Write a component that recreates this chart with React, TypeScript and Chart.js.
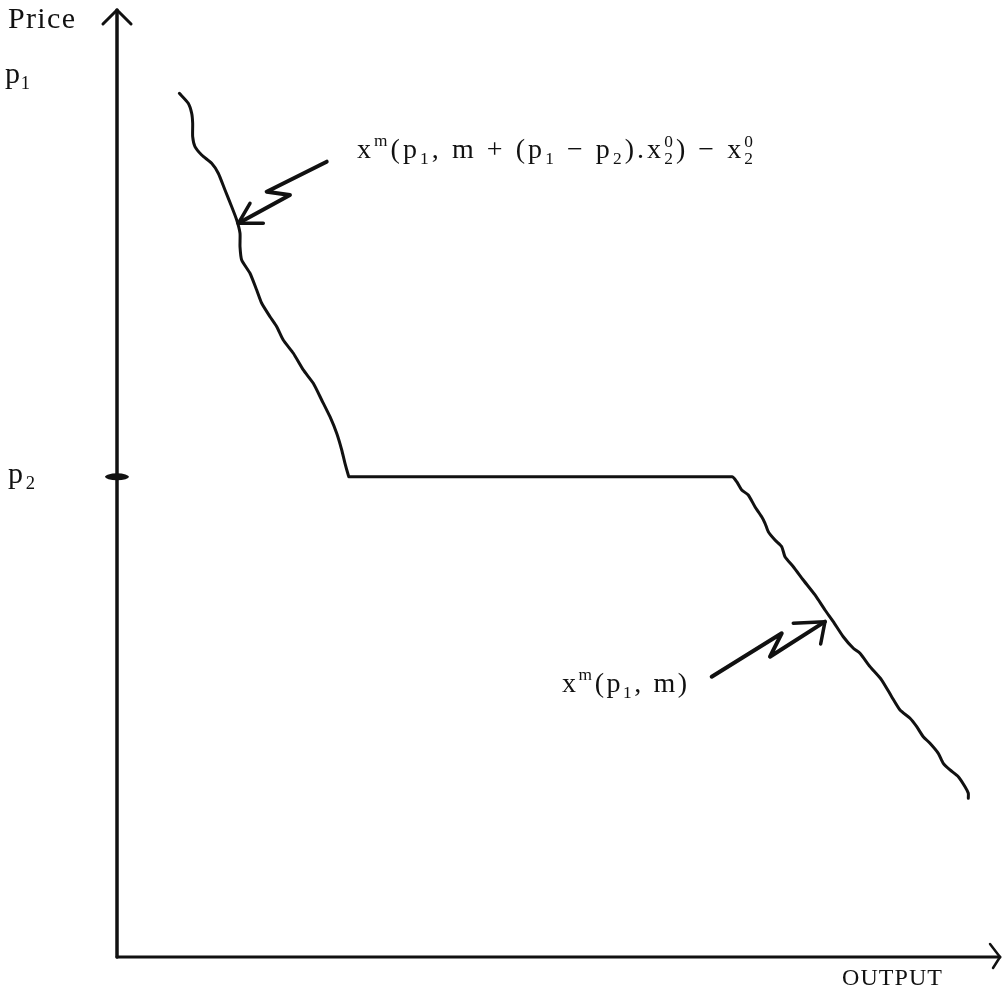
import React, { useEffect, useRef } from "react";
import { Chart, registerables } from "chart.js";

Chart.register(...registerables);

const W = 1007;
const H = 986;

// Price levels
const P1 = 91.2;
const P2 = 50.7;

// Demand curve: upper segment, flat part at p2, lower segment (x = output, y = price)
const curveX = [
  7.06, 8.07, 8.46, 8.57, 8.57, 8.83, 9.59, 10.72, 11.47, 12.23, 12.99, 13.56, 13.93, 13.93, 14.12, 15.06,
  15.82, 16.39, 17.33, 18.09, 18.83, 19.97, 21.1, 22.23, 23.18, 24.12, 24.88, 25.45, 25.82, 26.19, 26.27,
  69.65, 70.18, 70.75, 71.49, 72.25, 73.01, 73.39, 73.76, 74.52, 75.28, 75.65, 76.59, 77.72, 79.05, 80.18,
  81.12, 82.25, 83.39, 84.14, 85.28, 86.6, 87.73, 88.68, 89.81, 90.57, 91.31, 92.07, 93.01, 93.58, 94.34,
  95.28, 96.04, 96.41, 96.41,
];
const curveY = [
  91.2, 90.15, 89.09, 88.04, 86.62, 85.57, 84.69, 83.81, 82.76, 80.99, 79.23, 77.82, 76.42, 75.01, 73.6, 72.2,
  70.43, 69.03, 67.61, 66.56, 65.15, 63.75, 61.99, 60.58, 58.82, 57.05, 55.3, 53.54, 52.13, 50.9, 50.7,
  50.7, 50.19, 49.31, 48.79, 47.55, 46.49, 45.8, 44.91, 44.03, 43.33, 42.27, 41.21, 39.81, 38.23, 36.64,
  35.41, 33.82, 32.6, 32.07, 30.66, 29.25, 27.49, 26.08, 25.21, 24.32, 23.26, 22.57, 21.51, 20.45, 19.75,
  19.04, 17.98, 17.29, 16.76,
];

// Annotation arrow pointing at the upper segment (shaft with zig-zag, then head)
const arrowUpperX = [23.75, 16.95, 19.59, 13.74];
const arrowUpperY = [83.98, 80.81, 80.46, 77.48];
const headUpperX = [15.06, 13.74, 16.57];
const headUpperY = [79.59, 77.48, 77.48];

// Annotation arrow pointing at the lower segment
const arrowLowerX = [67.35, 75.28, 73.95, 80.18];
const arrowLowerY = [29.6, 34.18, 31.71, 35.41];
const headLowerX = [76.59, 80.18, 79.69];
const headLowerY = [35.24, 35.41, 33.05];

// Axes (with arrow heads)
const yAxisX = [0, 0];
const yAxisY = [0, 100];
const xAxisX = [0, 100];
const xAxisY = [0, 0];
const yHeadX = [-1.59, 0, 1.59];
const yHeadY = [98.52, 100, 98.52];
const xHeadX = [98.87, 100, 99.21];
const xHeadY = [1.37, 0, -1.16];

// Text labels
type Seg = [string, "n" | "sup" | "sub" | "ss", string?];
const yTitle = "Price";
const xTitle = "OUTPUT";
const p1Label: Seg[] = [["p", "n"], ["1", "sub"]];
const p2Label: Seg[] = [["p", "n"], ["2", "sub"]];
const upperLabel: Seg[] = [
  ["x", "n"], ["m", "sup"], ["(p", "n"], ["1", "sub"], [", m + (p", "n"], ["1", "sub"],
  [" − p", "n"], ["2", "sub"], [").x", "n"], ["2", "ss", "0"], [") − x", "n"], ["2", "ss", "0"],
];
const lowerLabel: Seg[] = [["x", "n"], ["m", "sup"], ["(p", "n"], ["1", "sub"], [", m)", "n"]];
const upperLabelPos = [27.18, 84.37];
const lowerLabelPos = [50.4, 27.98];

const FONT = "'Liberation Serif', serif";
const INK = "#111";

const pts = (xs: number[], ys: number[]) => xs.map((x, i) => ({ x, y: ys[i] }));

function drawRich(ctx: CanvasRenderingContext2D, segs: Seg[], x0: number, y0: number, size: number, target: number) {
  const small = size * 0.62;
  const items: { ch: string; sz: number; dy: number; ch2?: string; dy2?: number }[] = [];
  for (const [t, kind, t2] of segs) {
    if (kind === "n") for (const ch of t) items.push({ ch, sz: size, dy: 0 });
    else if (kind === "sup") for (const ch of t) items.push({ ch, sz: small, dy: -0.42 * size });
    else if (kind === "sub") for (const ch of t) items.push({ ch, sz: small, dy: 0.2 * size });
    else items.push({ ch: t, sz: small, dy: 0.2 * size, ch2: t2, dy2: -0.4 * size });
  }
  const widths = items.map((it) => {
    ctx.font = `${it.sz}px ${FONT}`;
    const w1 = ctx.measureText(it.ch).width;
    const w2 = it.ch2 ? ctx.measureText(it.ch2).width : 0;
    return Math.max(w1, w2);
  });
  const natural = widths.reduce((a, b) => a + b, 0);
  const gap = items.length > 1 ? (target - natural) / (items.length - 1) : 0;
  let x = x0;
  ctx.fillStyle = INK;
  ctx.textBaseline = "alphabetic";
  ctx.textAlign = "left";
  items.forEach((it, i) => {
    ctx.font = `${it.sz}px ${FONT}`;
    ctx.fillText(it.ch, x, y0 + it.dy);
    if (it.ch2) ctx.fillText(it.ch2, x, y0 + (it.dy2 || 0));
    x += widths[i] + gap;
  });
}

const labelPlugin = {
  id: "labels",
  afterDatasetsDraw(chart: any) {
    const { ctx } = chart;
    const xs = chart.scales.x;
    const ys = chart.scales.y;
    ctx.save();
    // p2 tick mark on the price axis
    ctx.fillStyle = INK;
    ctx.beginPath();
    ctx.ellipse(xs.getPixelForValue(0), ys.getPixelForValue(P2), 12, 3.5, 0, 0, Math.PI * 2);
    ctx.fill();
    // axis titles
    drawRich(ctx, [[yTitle, "n"]], xs.getPixelForValue(0) - 109, ys.getPixelForValue(100) + 18, 30, 67);
    drawRich(ctx, [[xTitle, "n"]], xs.getPixelForValue(100) - 158, ys.getPixelForValue(0) + 28, 24, 100);
    // price levels
    drawRich(ctx, p1Label, 5, ys.getPixelForValue(P1) - 10, 30, 25);
    drawRich(ctx, p2Label, 8, ys.getPixelForValue(P2) + 6, 30, 27);
    // curve labels
    drawRich(ctx, upperLabel, xs.getPixelForValue(upperLabelPos[0]), ys.getPixelForValue(upperLabelPos[1]), 28, 396);
    drawRich(ctx, lowerLabel, xs.getPixelForValue(lowerLabelPos[0]), ys.getPixelForValue(lowerLabelPos[1]), 28, 125);
    ctx.restore();
  },
};

function line(data: { x: number; y: number }[], width: number, tension = 0) {
  return {
    data,
    showLine: true,
    borderColor: INK,
    borderWidth: width,
    pointRadius: 0,
    pointHoverRadius: 0,
    tension,
    fill: false,
    clip: false as const,
    borderCapStyle: "round" as const,
    borderJoinStyle: "round" as const,
  };
}

export default function App() {
  const ref = useRef<HTMLCanvasElement | null>(null);
  useEffect(() => {
    const canvas = ref.current!;
    let chart: Chart | null = null;
    let cancelled = false;
    const build = () => {
      if (cancelled) return;
      chart = new Chart(canvas, {
        type: "scatter",
        data: {
          datasets: [
            line(pts(yAxisX, yAxisY), 3.5),
            line(pts(xAxisX, xAxisY), 3),
            line(pts(yHeadX, yHeadY), 3),
            line(pts(xHeadX, xHeadY), 2.5),
            line(pts(curveX, curveY), 3, 0.2),
            line(pts(arrowUpperX, arrowUpperY), 4),
            line(pts(headUpperX, headUpperY), 3.5),
            line(pts(arrowLowerX, arrowLowerY), 4),
            line(pts(headLowerX, headLowerY), 3.5),
          ] as any,
        },
        options: {
          animation: false,
          responsive: false,
          devicePixelRatio: 1,
          layout: { padding: { left: 117, right: 7, top: 10, bottom: 29 } },
          plugins: { legend: { display: false }, tooltip: { enabled: false } },
          events: [],
          scales: {
            x: { type: "linear", min: 0, max: 100, display: false },
            y: { type: "linear", min: 0, max: 100, display: false },
          },
        },
        plugins: [labelPlugin],
      });
    };
    const fonts = (document as any).fonts;
    if (fonts && fonts.load) {
      Promise.all([fonts.load("30px 'Liberation Serif'"), fonts.load("17px 'Liberation Serif'")])
        .catch(() => null)
        .then(build);
    } else build();
    return () => {
      cancelled = true;
      if (chart) chart.destroy();
    };
  }, []);
  return (
    <div style={{ position: "fixed", left: 0, top: 0, width: W, height: H, background: "#fff" }}>
      <span style={{ fontFamily: "'Liberation Serif'", position: "absolute", left: -9999, top: 0 }}>Price</span>
      <canvas ref={ref} width={W} height={H} style={{ display: "block", width: W, height: H }} />
    </div>
  );
}
